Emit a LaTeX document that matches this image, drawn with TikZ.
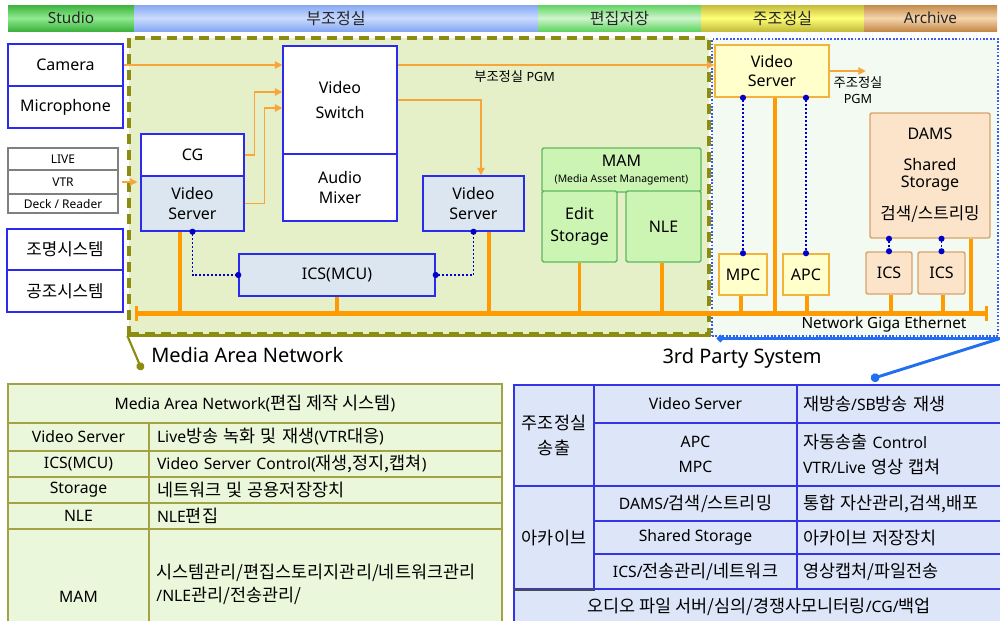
\documentclass[tikz,border=0pt]{standalone}
\usepackage{fontspec}
\setmainfont{Noto Sans}
\newfontfamily\krfont[Scale=1.05]{Noto Sans CJK KR}
\newfontfamily\krtabfont[Scale=1.11]{Noto Sans CJK KR}
\newcommand\hgl[1]{{\krfont #1}}
\newcommand\hgltab[1]{{\krtabfont #1}}
\usetikzlibrary{arrows.meta,calc}

\definecolor{olv}{HTML}{8C8C10}
\definecolor{olvfill}{HTML}{E6F0C8}
\definecolor{tpfill}{HTML}{F2FAF2}
\definecolor{tpline}{HTML}{3A5AF0}
\definecolor{ptrblue}{HTML}{1F6FEF}
\definecolor{bxblue}{HTML}{2B2BF0}
\definecolor{vsfill}{HTML}{DCE6F0}
\definecolor{busc}{HTML}{FF9A00}
\definecolor{sig}{HTML}{F8A53A}
\definecolor{ctl}{HTML}{0000C8}
\definecolor{mamfill}{HTML}{CCF5B4}
\definecolor{mamline}{HTML}{5DB85D}
\definecolor{ylwfill}{HTML}{FFFFCC}
\definecolor{ylwline}{HTML}{F2B33D}
\definecolor{damfill}{HTML}{FCE4CA}
\definecolor{damline}{HTML}{D8A36A}
\definecolor{ltline}{HTML}{A3A344}
\definecolor{ltfill}{HTML}{EBF7DA}
\definecolor{rtline}{HTML}{3434E6}
\definecolor{rtfill}{HTML}{DDE6F8}
\definecolor{srcgray}{HTML}{808080}
\definecolor{hStudioA}{HTML}{3DB23D}\definecolor{hStudioB}{HTML}{8FEA8F}
\definecolor{hBuA}{HTML}{86A8F2}\definecolor{hBuB}{HTML}{C9DBFF}
\definecolor{hEdA}{HTML}{62D262}\definecolor{hEdB}{HTML}{CDF6CD}
\definecolor{hJuA}{HTML}{C5BC3C}\definecolor{hJuB}{HTML}{FFFF78}
\definecolor{hArA}{HTML}{C48A48}\definecolor{hArB}{HTML}{F5D5AE}

\tikzset{
  wh/.style 2 args={minimum width=#1*0.75pt, minimum height=#2*0.75pt},
  hdr/.style={inner sep=0pt, font=\fontsize{11.5}{13}\selectfont, text=black!85},
  bx/.style={draw=bxblue, line width=1.1pt, fill=white, inner sep=0pt, align=center,
    font=\fontsize{12}{14.5}\selectfont},
  vsbx/.style={bx, fill=vsfill},
  srcbx/.style={draw=srcgray, line width=1.1pt, fill=white, inner sep=0pt,
    font=\fontsize{9}{10}\selectfont},
  mambx/.style={bx, draw=mamline, fill=mamfill, rounded corners=1.2pt},
  ylwbx/.style={bx, draw=ylwline, fill=ylwfill},
  dambx/.style={bx, draw=damline, fill=damfill, rounded corners=1.5pt},
  sigarr/.style={draw=sig, line width=0.9pt, arrows={-Triangle[length=5.5pt,width=5.5pt]}},
  busline/.style={draw=busc, line width=3.6pt},
  drop/.style={draw=busc, line width=2.8pt},
  ctlline/.style={draw=ctl, line width=1.4pt, dash pattern=on 1.4pt off 1.6pt,
    arrows={Circle[length=4.5pt]-Circle[length=4.5pt]},
    shorten <=-2.25pt, shorten >=-2.25pt},
  lcell/.style={draw=ltline, line width=1.3pt, fill=ltfill, inner sep=0pt,
    font=\fontsize{11.8}{14}\selectfont\let\hgl\hgltab},
  lcellt/.style={lcell, align=left, text width=252.75pt, inner xsep=6pt},
  rcell/.style={draw=rtline, line width=1.3pt, fill=rtfill, inner sep=0pt, align=center,
    font=\fontsize{11.8}{18.75}\selectfont\let\hgl\hgltab},
  rcellt/.style={rcell, align=left, text width=146.25pt, inner xsep=4.5pt},
  bigtxt/.style={inner sep=0pt, font=\fontsize{15}{17}\selectfont},
}

\begin{document}
\begin{tikzpicture}[x=0.75pt, y=-0.75pt]
\useasboundingbox (0,0) rectangle (1000,621);
\fill[white] (0,0) rectangle (1000,621);

% system areas
\node[draw=olv, line width=2.5pt, dash pattern=on 7.5pt off 4.5pt, fill=olvfill, wh={580}{296}] (man) at (419,186) {};
\node[draw=tpline, line width=1.5pt, dash pattern=on 1.3pt off 1.3pt, fill=tpfill, wh={286}{297}] (tp) at (855,187.5) {};
\draw[olv, line width=2.5pt] (man.south west) -- (man.south east);

% room header
\node[hdr, wh={126}{26}, top color=hStudioA, bottom color=hStudioA, middle color=hStudioB] (hStudio) at (71,18) {Studio};
\node[hdr, wh={404}{26}, top color=hBuA, bottom color=hBuA, middle color=hBuB] (hBu) at (336,18) {\hgl{부조정실}};
\node[hdr, wh={163}{26}, top color=hEdA, bottom color=hEdA, middle color=hEdB] (hEd) at (619.5,18) {\hgl{편집저장}};
\node[hdr, wh={163}{26}, top color=hJuA, bottom color=hJuA, middle color=hJuB] (hJu) at (782.5,18) {\hgl{주조정실}};
\node[hdr, wh={133}{26}, top color=hArA, bottom color=hArA, middle color=hArB] (hAr) at (930.5,18) {Archive};

% studio sources
\node[bx, wh={115}{42}] (cam) at (65.5,65) {Camera};
\node[bx, wh={115}{42}] (mic) at (65.5,107) {Microphone};
\node[srcbx, wh={110}{22}] (live) at (63,159) {LIVE};
\node[srcbx, wh={110}{24}] (vtr) at (63,182) {VTR};
\node[srcbx, wh={110}{19}] (deck) at (63,203.5) {Deck / Reader};
\node[bx, wh={116}{41}] (light) at (65,249.5) {\hgl{조명시스템}};
\node[bx, wh={116}{42}] (hvac) at (65,291) {\hgl{공조시스템}};

% sub control room
\node[bx, wh={103}{42}] (cg) at (192.5,155) {CG};
\node[vsbx, wh={103}{55}] (vs1) at (192.5,203.5) {Video\\Server};
\node[bx, wh={114}{108}] (vsw) at (340,100) {Video\\[4.5pt]Switch};
\node[bx, wh={114}{67}] (amix) at (340,187.5) {Audio\\Mixer};
\node[vsbx, wh={101}{55}] (vs2) at (473.5,203.5) {Video\\Server};
\node[vsbx, wh={196}{42}] (ics) at (337,275) {ICS(MCU)};

% edit storage
\node[mambx, wh={159}{44}] (mam) at (621.5,170) {MAM\\[-3pt]{\fontsize{7.8}{9}\selectfont(Media Asset Management)}};
\node[mambx, wh={75}{71}] (edit) at (579.5,226.5) {Edit\\[1.5pt]Storage};
\node[mambx, wh={75}{71}] (nle) at (663.5,226.5) {NLE};

% master control and archive
\node[ylwbx, wh={114}{52}] (vs3) at (772,71) {Video\\Server};
\node[ylwbx, wh={48}{41}] (mpc) at (743,274.5) {MPC};
\node[ylwbx, wh={46}{41}] (apc) at (806,274.5) {APC};
\node[dambx, wh={120}{125}, font=\fontsize{12}{13}\selectfont] (dams) at (930,175.5) {DAMS\\[10pt]Shared\\Storage\\[10pt]\hgl{검색/스트리밍}};
\node[dambx, wh={46}{42}] (ics1) at (889,273) {ICS};
\node[dambx, wh={47}{42}] (ics2) at (941.5,273) {ICS};

% signal flow
\coordinate (vswin2) at ($(vsw.west)+(0,-8)$);
\coordinate (vswin3) at ($(vsw.west)+(0,8)$);
\draw[sigarr] (cam.east) -- (cam.east -| vsw.west);
\draw[sigarr] (cg.east) -- ++(10,0) |- (vswin2);
\draw[sigarr] (vs1.east) -- ++(20,0) |- (vswin3);
\draw[sigarr, shorten <=2.25pt, shorten >=2.25pt] (vtr.east) -- (vtr.east -| vs1.west);
\draw[sigarr] (cam.east -| vsw.east) -- (cam.east -| vs3.west);
\draw[sigarr] (vsw.east) -| ($(vs2.north)+(7.5,0)$);
\coordinate (pgmout) at ($(vs3.east)+(36,0)$);
\draw[sigarr] (vs3.east) -- (pgmout);
\node[anchor=west, inner sep=0pt, font=\fontsize{9.5}{11}\selectfont] (pgmA) at (474,77) {\hgl{부조정실} PGM};
\node[inner sep=0pt, align=center, font=\fontsize{9.5}{12}\selectfont] (pgmB) at (858,90) {\hgl{주조정실}\\PGM};

% control links
\draw[ctlline] (vs1.south) |- (ics.west);
\draw[ctlline] (ics.east) -| (vs2.south);
\draw[ctlline] (vs3.south -| mpc.north) -- (mpc.north);
\draw[ctlline] (vs3.south -| apc.north) -- (apc.north);
\draw[ctlline] (dams.south -| ics1.north) -- (ics1.north);
\draw[ctlline] (dams.south -| ics2.north) -- (ics2.north);

% gigabit network
\coordinate (busL) at (135,313.5);
\coordinate (busR) at (988,313.5);
\foreach \n/\dx in {vs1/-12.5, ics/0, vs2/15.5, edit/0, nle/-1.5, vs3/3, mpc/-2, apc/1, ics1/2, ics2/1.5, dams/41}
  \draw[drop] ($(\n.south)+(\dx,0)$) coordinate (t) -- (t |- busL);
\draw[busline, arrows={Bar[width=11.5pt,line width=2.4pt]-Bar[width=11.5pt,line width=2.4pt]}] (busL) -- (busR);
\node[inner sep=0pt, font=\fontsize{11.5}{13}\selectfont] (gige) at (884,325) {Network Giga Ethernet};

% area captions
\coordinate (mandot) at (142,370);
\draw[olv, line width=1.6pt, arrows={-Circle[length=6pt]}] (man.south west) -- (mandot);
\node[bigtxt, anchor=west] (manname) at (151,355) {Media Area Network};
\coordinate (tpdot) at (871,379);
\draw[ptrblue, line width=2.2pt, line join=round, arrows={Circle[length=5pt]-Circle[length=6.5pt]}]
  ($(tp.south west)+(6,1.5)$) -- ($(tp.south east)+(1,1.5)$) -- (tpdot);
\node[bigtxt] (tpname) at (742,358) {3rd Party System};

% Media Area Network table
\node[lcell, wh={494}{39}] (lh) at (255,403.5) {Media Area Network(\hgl{편집 제작 시스템})};
\node[lcell, wh={141}{28}] (l1a) at (78.5,437) {Video Server};
\node[lcellt, wh={353}{28}] (l1b) at (325.5,437) {Live\hgl{방송 녹화 및 재생}(VTR\hgl{대응})};
\node[lcell, wh={141}{26}] (l2a) at (78.5,464) {ICS(MCU)};
\node[lcellt, wh={353}{26}] (l2b) at (325.5,464) {Video Server Control(\hgl{재생,정지,캡쳐})};
\node[lcell, wh={141}{26}] (l3a) at (78.5,490) {Storage};
\node[lcellt, wh={353}{26}] (l3b) at (325.5,490) {\hgl{네트워크 및 공용저장장치}};
\node[lcell, wh={141}{26}] (l4a) at (78.5,516) {NLE};
\node[lcellt, wh={353}{26}] (l4b) at (325.5,516) {NLE\hgl{편집}};
\node[lcell, wh={141}{136}] (l5a) at (78.5,597) {MAM};
\node[lcell, wh={353}{136}] (l5b) at (325.5,597) {};
\node[anchor=west, inner sep=0pt, align=left, font=\fontsize{11.8}{17.25}\selectfont] (l5t)
  at ($(l5b.north west)+(8,56.5)$) {\hgltab{시스템관리/편집스토리지관리/네트워크관리}\\/NLE\hgltab{관리/전송관리/}};

% 3rd party system table
\node[rcell, wh={80}{101}] (r1a) at (554,435.5) {\hgl{주조정실}\\\hgl{송출}};
\node[rcell, wh={80}{103}] (r2a) at (554,537.5) {\hgl{아카이브}};
\node[rcell, wh={203}{38}] (r1b) at (695.5,404) {Video Server};
\node[rcell, wh={203}{63}] (r2b) at (695.5,454.5) {APC\\MPC};
\node[rcell, wh={203}{35}] (r3b) at (695.5,503.5) {DAMS/\hgl{검색/스트리밍}};
\node[rcell, wh={203}{33}] (r4b) at (695.5,537.5) {Shared Storage};
\node[rcell, wh={203}{35}] (r5b) at (695.5,571.5) {ICS/\hgl{전송관리/네트워크}};
\node[rcellt, wh={207}{38}] (r1c) at (900.5,404) {\hgl{재방송}/SB\hgl{방송 재생}};
\node[rcellt, wh={207}{63}] (r2c) at (900.5,454.5) {\hgl{자동송출} Control\\VTR/Live \hgl{영상 캡쳐}};
\node[rcellt, wh={207}{35}] (r3c) at (900.5,503.5) {\hgl{통합 자산관리,검색,배포}};
\node[rcellt, wh={207}{33}] (r4c) at (900.5,537.5) {\hgl{아카이브 저장장치}};
\node[rcellt, wh={207}{35}] (r5c) at (900.5,571.5) {\hgl{영상캡처/파일전송}};
\node[rcell, wh={490}{36}] (r6) at (759,607) {\hgl{오디오 파일 서버/심의/경쟁사모니터링}/CG/\hgl{백업}};
\draw[black!70, line width=1.5pt] (r2a.south west) -- (r2a.south east);
\end{tikzpicture}
\end{document}
